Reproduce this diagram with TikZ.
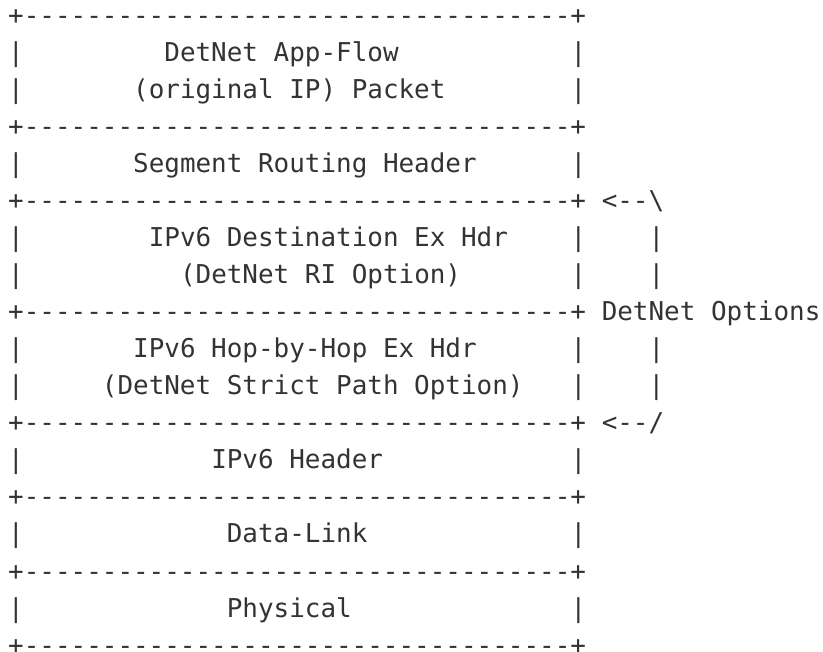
\documentclass[tikz,border=0pt]{standalone}
\usepackage{fontspec}
\setmonofont{DejaVu Sans Mono}
\definecolor{ink}{RGB}{51,51,51}
\newcommand\dashes{-----------------------------------}
\newcommand\colx[1]{8.2+15.62*#1}
\newcommand\rowy[1]{25+37*#1}
\newcommand\seg[4]{\node[txt] (#1) at ({\colx{#2}},{\rowy{#3}}) {#4};}
\newcommand\boxrow[3]{%
  \seg{l#1}{0}{#1}{|}%
  \seg{t#1}{#2}{#1}{#3}%
  \seg{r#1}{36}{#1}{|}}
\newcommand\edgerow[1]{\seg{e#1}{0}{#1}{+\dashes+}}
\begin{document}
\begin{tikzpicture}[x=1pt,y=-1pt,
  txt/.style={anchor=base west, inner sep=0pt, outer sep=0pt, text=ink,
    font=\ttfamily\fontsize{25.94}{37}\selectfont}]
\useasboundingbox (0,0) rectangle (823,652);
\edgerow{0}
\boxrow{1}{10}{DetNet App-Flow}
\boxrow{2}{8}{(original IP) Packet}
\edgerow{3}
\boxrow{4}{8}{Segment Routing Header}
\edgerow{5}
\boxrow{6}{9}{IPv6 Destination Ex Hdr}
\boxrow{7}{11}{(DetNet RI Option)}
\edgerow{8}
\boxrow{9}{8}{IPv6 Hop-by-Hop Ex Hdr}
\boxrow{10}{6}{(DetNet Strict Path Option)}
\edgerow{11}
\boxrow{12}{13}{IPv6 Header}
\edgerow{13}
\boxrow{14}{14}{Data-Link}
\edgerow{15}
\boxrow{16}{14}{Physical}
\edgerow{17}
% DetNet options brace
\seg{top}{38}{5}{<--\textbackslash}
\seg{v6}{41}{6}{|}
\seg{v7}{41}{7}{|}
\seg{opt}{38}{8}{DetNet Options}
\seg{v9}{41}{9}{|}
\seg{v10}{41}{10}{|}
\seg{bot}{38}{11}{<--/}
\end{tikzpicture}
\end{document}
